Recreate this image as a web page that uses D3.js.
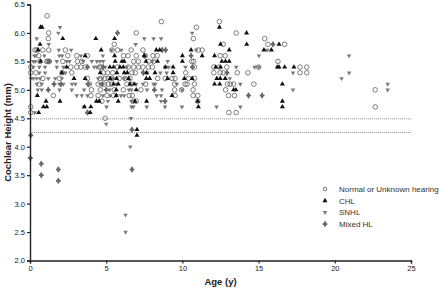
<!DOCTYPE html>
<html>
<head>
<meta charset="utf-8">
<script src="https://cdn.jsdelivr.net/npm/d3@7"></script>
<style>
  body { margin: 0; background: #fff; }
  text { font-family: "Liberation Sans", Arial, sans-serif; }
</style>
</head>
<body>
<div id="chart"></div>
<script>
// data: [age (y), cochlear height (mm)]
var normal = [
  [1.12,6.3],[8.62,6.2],[12.43,6.2],[10.92,6.1],[1.23,6.0],[6.97,6.0],[13.53,6.0],
  [1.2,5.9],[10.72,5.9],[15.4,5.9],
  [5.53,5.8],[12.68,5.8],[15.61,5.8],[16.71,5.8],
  [0.33,5.7],[0.46,5.7],[0.84,5.7],[1.23,5.7],[2.32,5.7],[5.38,5.7],[5.74,5.7],[6.64,5.7],[7.41,5.7],[11.05,5.7],[11.3,5.7],
  [0.57,5.6],[2.48,5.6],[3.07,5.6],[3.77,5.6],[6.14,5.6],[6.43,5.6],[6.97,5.6],[7.57,5.6],[8.07,5.6],[8.34,5.6],[12.48,5.6],[12.81,5.6],
  [0.66,5.5],[1.1,5.5],[1.18,5.5],[1.27,5.5],[2.15,5.5],[3.11,5.5],[3.4,5.5],[6.8,5.5],[7.11,5.5],[7.78,5.5],[8.11,5.5],[10.61,5.5],[10.74,5.5],[16.27,5.5],
  [0.05,5.4],[2.68,5.4],[3.07,5.4],[3.34,5.4],[3.62,5.4],[4.56,5.4],[4.67,5.4],[5.74,5.4],[6.45,5.4],[6.8,5.4],[7.13,5.4],[7.41,5.4],[7.76,5.4],[8.03,5.4],[10.79,5.4],[12.06,5.4],[12.41,5.4],[12.91,5.4],[15.0,5.4],[17.72,5.4],[18.16,5.4],
  [0.05,5.3],[0.39,5.3],[2.11,5.3],[2.74,5.3],[4.82,5.3],[5.09,5.3],[5.44,5.3],[6.69,5.3],[6.91,5.3],[10.22,5.3],[12.06,5.3],[12.48,5.3],[12.68,5.3],[13.6,5.3],[14.3,5.3],[17.72,5.3],[18.16,5.3],
  [0.84,5.2],[1.93,5.2],[3.77,5.2],[4.61,5.2],[4.91,5.2],[5.13,5.2],[5.39,5.2],[5.86,5.2],[6.23,5.2],[6.56,5.2],[8.38,5.2],[8.88,5.2],[9.32,5.2],[9.52,5.2],[10.41,5.2],[10.79,5.2],
  [0.61,5.1],[3.9,5.1],[4.47,5.1],[4.87,5.1],[5.15,5.1],[5.35,5.1],[6.36,5.1],[6.64,5.1],[7.59,5.1],[9.49,5.1],[10.18,5.1],[10.31,5.1],[10.79,5.1],[12.96,5.1],[13.14,5.1],[13.36,5.1],[14.69,5.1],
  [4.03,5.0],[4.61,5.0],[5.53,5.0],[6.12,5.0],[7.28,5.0],[9.49,5.0],[9.95,5.0],[10.7,5.0],[12.83,5.0],[22.65,5.0],
  [1.53,4.9],[3.99,4.9],[4.47,4.9],[5.05,4.9],[5.48,4.9],[6.51,4.9],[6.71,4.9],[9.52,4.9],[10.7,4.9],[11.01,4.9],[13.03,4.9],[13.42,4.9],
  [4.72,4.8],[6.76,4.8],[6.97,4.8],[11.01,4.8],
  [0.05,4.7],[22.65,4.7],[0.05,4.6],[13.05,4.6],[13.53,4.6],[4.93,4.5]
];

var chl = [
  [0.69,6.1],[0.79,6.1],[12.43,6.1],[14.21,6.0],
  [2.15,5.9],[4.32,5.9],[5.55,5.9],
  [0.66,5.8],[12.5,5.8],[14.22,5.8],[16.34,5.8],
  [0.53,5.7],[4.67,5.7],[8.29,5.7],[8.51,5.7],[10.57,5.7],[13.07,5.7],[15.35,5.7],[15.84,5.7],
  [3.62,5.6],[5.55,5.6],[7.5,5.6],[10.0,5.6],[11.3,5.6],[12.11,5.6],
  [0.69,5.5],[5.59,5.5],[6.03,5.5],[6.18,5.5],[7.61,5.5],[8.37,5.5],[10.0,5.5],[12.59,5.5],[12.83,5.5],[13.07,5.5],
  [2.41,5.4],[5.24,5.4],[5.48,5.4],[5.9,5.4],[6.12,5.4],[8.88,5.4],[9.39,5.4],[12.19,5.4],[12.5,5.4],[16.23,5.4],[16.34,5.4],[16.71,5.4],[17.32,5.4],
  [2.09,5.3],[4.61,5.3],[5.7,5.3],[6.18,5.3],[6.38,5.3],[7.65,5.3],[8.2,5.3],[9.39,5.3],
  [2.89,5.2],[3.62,5.2],[5.26,5.2],[5.68,5.2],[6.47,5.2],[7.63,5.2],[7.85,5.2],[9.03,5.2],[10.13,5.2],[10.64,5.2],[12.26,5.2],[12.48,5.2],[12.81,5.2],
  [5.48,5.1],[5.79,5.1],[6.56,5.1],[6.84,5.1],[12.11,5.1],[12.45,5.1],[16.56,5.1],
  [5.66,5.0],[6.97,5.0],[13.36,5.0],[13.51,5.0],
  [0.48,4.9],[5.66,4.9],[9.32,4.9],
  [1.05,4.8],[1.97,4.8],[4.36,4.8],[4.54,4.8],[5.79,4.8],[6.89,4.8],[7.65,4.8],[11.01,4.8],[16.56,4.8],
  [0.88,4.7],[1.1,4.7],[3.57,4.7],[3.99,4.7],[11.05,4.7],[16.56,4.7],
  [0.57,4.6],[3.95,4.6],[7.02,4.3],[7.02,4.2]
];

var snhl = [
  [1.97,6.1],[1.86,6.0],[10.64,6.0],
  [0.44,5.9],[7.5,5.9],[8.11,5.9],[8.6,5.9],
  [1.23,5.8],[6.93,5.8],
  [1.89,5.7],[2.7,5.7],[5.35,5.7],[5.99,5.7],[10.9,5.7],[15.57,5.7],
  [0.28,5.6],[0.39,5.6],[0.94,5.6],[1.93,5.6],[2.11,5.6],[3.34,5.6],[4.78,5.6],[15.02,5.6],[20.94,5.6],
  [0.22,5.5],[0.35,5.5],[1.76,5.5],[2.41,5.5],[2.59,5.5],[3.49,5.5],[4.06,5.5],[4.39,5.5],[4.59,5.5],[4.8,5.5],[8.03,5.5],[9.03,5.5],
  [0.22,5.4],[0.61,5.4],[0.99,5.4],[1.76,5.4],[2.19,5.4],[4.21,5.4],[4.39,5.4],[4.93,5.4],[6.36,5.4],[8.88,5.4],[9.1,5.4],[10.2,5.4],[13.53,5.4],[14.74,5.4],[15.02,5.4],
  [0.61,5.3],[0.99,5.3],[2.32,5.3],[7.41,5.3],[7.68,5.3],[8.55,5.3],[8.97,5.3],[17.26,5.3],[20.94,5.3],
  [0.05,5.2],[0.22,5.2],[0.44,5.2],[0.66,5.2],[1.2,5.2],[1.66,5.2],[2.09,5.2],[4.47,5.2],[4.74,5.2],[5.46,5.2],[6.18,5.2],[13.11,5.2],[20.44,5.2],
  [0.44,5.1],[0.77,5.1],[1.93,5.1],[2.19,5.1],[2.76,5.1],[2.98,5.1],[3.77,5.1],[4.61,5.1],[5.7,5.1],[6.97,5.1],[7.41,5.1],[8.11,5.1],[8.22,5.1],[9.63,5.1],[13.8,5.1],[23.47,5.1],
  [0.51,5.0],[0.77,5.0],[1.93,5.0],[2.74,5.0],[3.55,5.0],[5.22,5.0],[6.49,5.0],[6.66,5.0],[7.68,5.0],[8.66,5.0],[9.98,5.0],[17.26,5.0],[23.47,5.0],
  [3.07,4.9],[3.4,4.9],[3.77,4.9],[4.78,4.9],[5.26,4.9],[5.68,4.9],[5.97,4.9],[6.18,4.9],[8.31,4.9],[8.6,4.9],
  [5.11,4.8],[6.66,4.8],[8.6,4.8],
  [3.55,4.7],[5.02,4.7],[6.66,4.7],[6.78,4.7],[7.66,4.7],[8.86,4.7],[9.97,4.7],[12.24,4.7],[13.8,4.7],
  [0.31,4.6],[6.62,4.5],[5.0,4.4],[6.58,4.0],[6.27,2.8],[6.27,2.5]
];

var mixed = [
  [5.74,6.0],[15.94,5.8],[8.68,5.7],[8.9,5.7],[7.5,5.6],[10.57,5.6],[1.25,5.5],
  [3.77,5.4],[4.8,5.4],[10.66,5.4],[7.43,5.3],[12.93,5.3],
  [1.58,5.1],[2.04,5.1],[3.82,5.1],[4.74,5.1],[1.2,5.0],[5.0,5.0],[8.16,5.0],
  [14.34,4.9],[15.23,4.9],[8.86,4.8],[3.77,4.6],[6.69,4.3],[0.05,4.2],
  [0.02,3.8],[0.74,3.7],[1.86,3.6],[6.69,3.6],[0.74,3.5],[1.86,3.4]
];

var refLines = [4.49, 4.25];
var xTicks = [0, 5, 10, 15, 20, 25];
var yTicks = [2.0, 2.5, 3.0, 3.5, 4.0, 4.5, 5.0, 5.5, 6.0, 6.5];
var legendNames = ["Normal or Unknown hearing", "CHL", "SNHL", "Mixed HL"];

var W = 440, H = 290;
var margin = { top: 4.5, right: 29, bottom: 29.5, left: 30 },
    width = W - margin.left - margin.right,
    height = H - margin.top - margin.bottom;

var svg = d3.select("#chart").append("svg")
    .attr("width", W)
    .attr("height", H);

var g = svg.append("g")
    .attr("transform", "translate(" + margin.left + "," + margin.top + ")");

var x = d3.scaleLinear().domain([0, 25]).range([0, width]);
var y = d3.scaleLinear().domain([2, 6.5]).range([height, 0]);

// dotted reference lines
g.selectAll(".ref")
    .data(refLines)
    .enter().append("line")
    .attr("x1", x(0)).attr("x2", x(25))
    .attr("y1", function(d) { return y(d); })
    .attr("y2", function(d) { return y(d); })
    .style("stroke", "#9a9a9a")
    .style("stroke-width", 1)
    .style("stroke-dasharray", "1.2,0.8");

// symbols
var triUp = d3.symbol().type(d3.symbolTriangle).size(11);
var triDown = d3.symbol().type(d3.symbolTriangle).size(9);
var diamond = d3.symbol().type(d3.symbolDiamond).size(14);
var cross = d3.symbol().type(d3.symbolCross).size(13);

function drawCircles(sel, data, r) {
  sel.selectAll(null).data(data).enter().append("circle")
    .attr("cx", function(d) { return x(d[0]); })
    .attr("cy", function(d) { return y(d[1]); })
    .attr("r", r)
    .style("fill", "none")
    .style("stroke", "#555")
    .style("stroke-width", 0.75);
}

function drawSym(sel, data, gen, fill, rot) {
  sel.selectAll(null).data(data).enter().append("path")
    .attr("d", gen)
    .attr("transform", function(d) {
      return "translate(" + x(d[0]) + "," + y(d[1]) + ")" + (rot ? " rotate(180)" : "");
    })
    .style("fill", fill);
}

var pts = g.append("g");
drawCircles(pts, normal, 2.3);
drawSym(pts, snhl, triDown, "#7a7a7a", true);
drawSym(pts, mixed, diamond, "#8a8a8a", false);
drawSym(pts, mixed, cross, "#666", false);
drawSym(pts, chl, triUp, "#111", false);

// axes
var yAxis = g.append("g")
    .call(d3.axisLeft(y).tickValues(yTicks).tickFormat(d3.format(".1f")).tickSize(3).tickPadding(2));
var xAxis = g.append("g")
    .attr("transform", "translate(0," + height + ")")
    .call(d3.axisBottom(x).tickValues(xTicks).tickSize(3).tickPadding(2));

[yAxis, xAxis].forEach(function(a) {
  a.select(".domain").style("stroke", "#222").style("stroke-width", 1.4);
  a.selectAll(".tick line").style("stroke", "#222").style("stroke-width", 1.2);
  a.selectAll(".tick text")
    .style("font-family", "'Liberation Sans', Arial, sans-serif")
    .style("font-size", "7.5px")
    .style("fill", "#222");
});

// axis titles
svg.append("text")
    .attr("x", margin.left + x(12.5))
    .attr("y", 285)
    .attr("text-anchor", "middle")
    .style("font-size", "9.5px")
    .style("font-weight", "bold")
    .style("fill", "#222")
    .text("Age (y)");

svg.append("text")
    .attr("transform", "translate(11," + (margin.top + height / 2) + ") rotate(-90)")
    .attr("text-anchor", "middle")
    .style("font-size", "9.5px")
    .style("font-weight", "bold")
    .style("fill", "#222")
    .text("Cochlear Height (mm)");

// legend
var legend = svg.append("g").attr("transform", "translate(325,189)");
var item = legend.selectAll(".item")
    .data(legendNames)
    .enter().append("g")
    .attr("transform", function(d, i) { return "translate(0," + (i * 11.7) + ")"; });

item.each(function(d, i) {
  var s = d3.select(this);
  if (i === 0) {
    s.append("circle").attr("r", 1.8).style("fill", "none").style("stroke", "#555").style("stroke-width", 0.8);
  } else if (i === 1) {
    s.append("path").attr("d", triUp).style("fill", "#111");
  } else if (i === 2) {
    s.append("path").attr("d", triDown).attr("transform", "rotate(180)").style("fill", "#7a7a7a");
  } else {
    s.append("path").attr("d", diamond).style("fill", "#8a8a8a");
    s.append("path").attr("d", cross).style("fill", "#666");
  }
});

item.append("text")
    .attr("x", 14)
    .attr("y", 3)
    .style("font-size", "8px")
    .style("fill", "#333")
    .text(function(d) { return d; });
</script>
</body>
</html>
